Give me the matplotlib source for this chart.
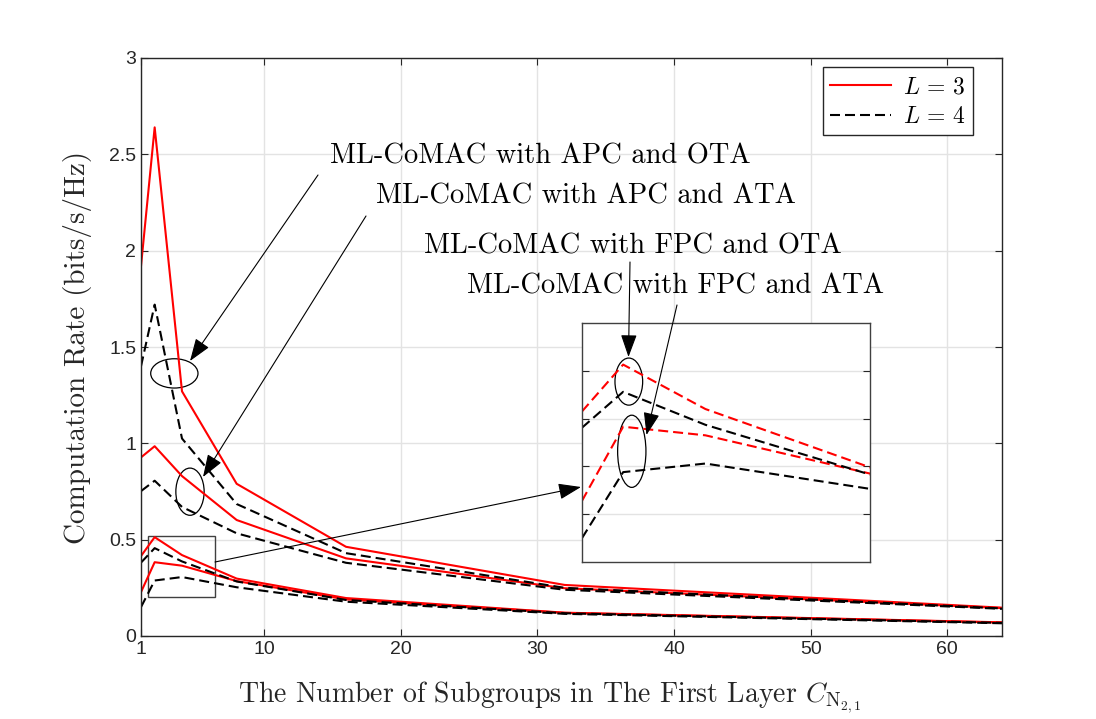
import numpy as np
import matplotlib.pyplot as plt
from matplotlib.patches import Ellipse, Rectangle, FancyArrowPatch
from matplotlib.lines import Line2D

plt.rcParams['mathtext.fontset'] = 'cm'

# subgroups in the first layer
x = [1, 2, 4, 8, 16, 32, 64]

# computation rate (bits/s/Hz)
apc_ota_L3 = [1.92, 2.64, 1.27, 0.79, 0.463, 0.265, 0.147]
apc_ota_L4 = [1.40, 1.72, 1.025, 0.685, 0.43, 0.25, 0.143]
apc_ata_L3 = [0.927, 0.985, 0.83, 0.602, 0.403, 0.248, 0.145]
apc_ata_L4 = [0.752, 0.806, 0.67, 0.533, 0.38, 0.24, 0.141]
fpc_ota_L3 = [0.415, 0.513, 0.42, 0.298, 0.197, 0.121, 0.071]
fpc_ota_L4 = [0.381, 0.456, 0.387, 0.283, 0.187, 0.118, 0.068]
fpc_ata_L3 = [0.228, 0.383, 0.365, 0.285, 0.19, 0.12, 0.07]
fpc_ata_L4 = [0.150, 0.288, 0.306, 0.253, 0.178, 0.115, 0.066]

curves_L3 = [apc_ota_L3, apc_ata_L3, fpc_ota_L3, fpc_ata_L3]
curves_L4 = [apc_ota_L4, apc_ata_L4, fpc_ota_L4, fpc_ata_L4]

xticks = [1, 10, 20, 30, 40, 50, 60]
yticks = [0, 0.5, 1, 1.5, 2, 2.5, 3]
labels = ['ML-CoMAC with APC and OTA', 'ML-CoMAC with APC and ATA',
          'ML-CoMAC with FPC and OTA', 'ML-CoMAC with FPC and ATA']

W, H = 1096, 719
dash = (0, (4.8, 2.4))
axcol = '#262626'
gridcol = '#e3e3e3'
tickfont = 'Liberation Sans'
txtfont = 'cmr10'


def fpx(px, py):
    return (px / W, 1 - py / H)


fig = plt.figure(figsize=(W / 100, H / 100), dpi=100)
ax = fig.add_axes([141 / W, 1 - 636 / H, 861 / W, 578 / H])

for y in curves_L3:
    ax.plot(x, y, color='red', lw=1.5)
for y in curves_L4:
    ax.plot(x, y, color='black', lw=1.5, linestyle=dash)

ax.set_xlim(1, 64)
ax.set_ylim(0, 3)
ax.set_xticks(xticks)
ax.set_yticks(yticks)
ax.set_yticklabels(['0', '0.5', '1', '1.5', '2', '2.5', '3'])
ax.grid(True, color=gridcol, lw=1)
ax.set_axisbelow(True)
ax.tick_params(direction='in', top=True, right=True, length=5, colors=axcol,
               labelsize=14, labelcolor=axcol)
for lab in ax.get_xticklabels() + ax.get_yticklabels():
    lab.set_fontfamily(tickfont)
for s in ax.spines.values():
    s.set_color(axcol)
    s.set_linewidth(1)

ax.set_xlabel(r'The Number of Subgroups in The First Layer $C_{\mathrm{N}_{2,1}}$',
              fontfamily=txtfont, fontsize=20, color=axcol)
ax.xaxis.set_label_coords(0.475, -0.075)
ax.set_ylabel('Computation Rate (bits/s/Hz)', fontfamily=txtfont, fontsize=21,
              labelpad=12, color=axcol)

handles = [Line2D([], [], color='red', lw=1.5),
           Line2D([], [], color='black', lw=1.5, linestyle=dash)]
leg = ax.legend(handles, [r'$L\,=\,3$', r'$L\,=\,4$'], loc='upper right',
                bbox_to_anchor=(0.9663, 0.9844), fontsize=17, fancybox=False,
                framealpha=1, edgecolor=axcol, handlelength=2.6,
                borderpad=0.3, labelspacing=0.25, handletextpad=0.5,
                borderaxespad=0)
leg.get_frame().set_linewidth(1)

# zoom rectangle and ellipses in main axes
ax.add_patch(Rectangle((1.5, 0.2), 4.9, 0.32, fill=False, ec='#404040', lw=1))
ax.add_patch(Ellipse((3.44, 1.363), 3.46, 0.152, fill=False, ec='black', lw=0.9))
ax.add_patch(Ellipse((4.585, 0.749), 2.07, 0.245, fill=False, ec='black', lw=0.9))

# inset with the FPC curves
axin = fig.add_axes([582 / W, 1 - 562 / H, 288 / W, 239 / H])
axin.plot(x, fpc_ota_L3, color='red', lw=1.5, linestyle=dash)
axin.plot(x, fpc_ata_L3, color='red', lw=1.5, linestyle=dash)
axin.plot(x, fpc_ota_L4, color='black', lw=1.5, linestyle=dash)
axin.plot(x, fpc_ata_L4, color='black', lw=1.5, linestyle=dash)
axin.set_xlim(1, 8)
axin.set_ylim(0.1, 0.6)
axin.set_xticks([])
axin.set_yticks([0.2, 0.3, 0.4, 0.5])
axin.set_yticklabels([])
axin.grid(True, axis='y', color=gridcol, lw=1)
axin.set_axisbelow(True)
axin.tick_params(direction='in', right=True, length=5, colors=axcol)
for s in axin.spines.values():
    s.set_color('#404040')
    s.set_linewidth(1)
axin.add_patch(Ellipse((2.138, 0.4774), 0.673, 0.0985, fill=False, ec='black', lw=0.9))
axin.add_patch(Ellipse((2.21, 0.3316), 0.688, 0.151, fill=False, ec='black', lw=0.9))

# annotation texts (baseline positions in pixels)
text_pos = [(330, 164), (376, 204), (424, 254), (467, 294)]
for lab, (px, py) in zip(labels, text_pos):
    fig.text(*fpx(px, py), lab, fontfamily=txtfont, fontsize=20.5,
             va='baseline', ha='left', color='black', zorder=5)

arrows = [((318, 175), (190, 361)),
          ((366, 216), (203, 477)),
          ((630, 262), (628.5, 357)),
          ((677, 305), (646.5, 435)),
          ((215, 562), (581, 487))]
for (p0, p1) in arrows:
    arr = FancyArrowPatch(fpx(*p0), fpx(*p1), transform=fig.transFigure,
                          arrowstyle='-|>,head_length=14,head_width=5',
                          color='black', lw=0.8, shrinkA=0, shrinkB=0,
                          mutation_scale=1, zorder=6)
    fig.add_artist(arr)

fig.savefig('out.png', dpi=100)
